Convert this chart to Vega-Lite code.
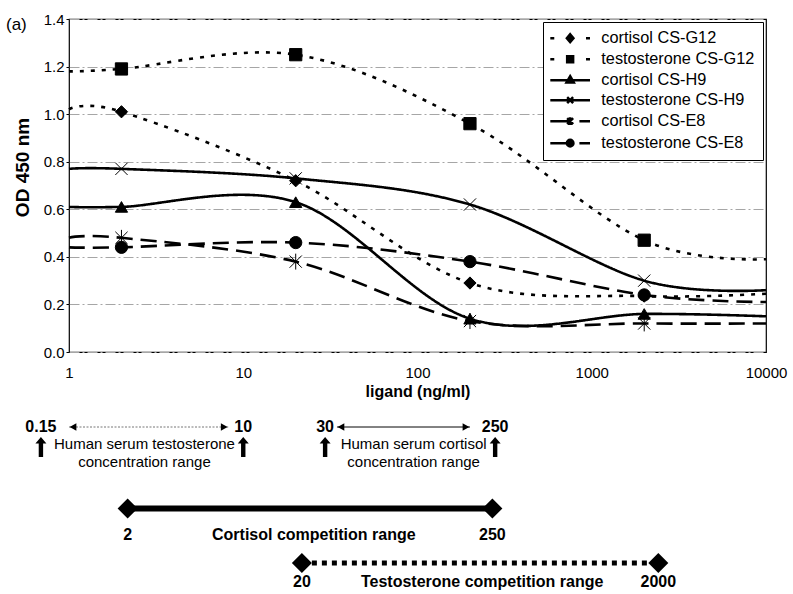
{
  "$schema": "https://vega.github.io/schema/vega-lite/v6.json",
  "padding": {"left": 5, "top": 11, "right": 0, "bottom": 0},
  "spacing": 5,
  "config": {
    "font": "Liberation Sans",
    "view": {"stroke": null},
    "axis": {"labelColor": "black", "titleColor": "black"},
    "title": {"color": "black"},
    "text": {"color": "black"}
  },
  "resolve": {"scale": {"x": "independent"}},
  "datasets": {
    "curves": [
      {"series": "cortisol CS-G12", "conc": 1, "od": 1.02, "marker": false},
      {"series": "cortisol CS-G12", "conc": 2, "od": 1.01, "marker": true},
      {"series": "cortisol CS-G12", "conc": 20, "od": 0.72, "marker": true},
      {"series": "cortisol CS-G12", "conc": 200, "od": 0.29, "marker": true},
      {"series": "cortisol CS-G12", "conc": 2000, "od": 0.235, "marker": true},
      {"series": "cortisol CS-G12", "conc": 10000, "od": 0.245, "marker": false},
      {"series": "testosterone CS-G12", "conc": 1, "od": 1.18, "marker": false},
      {"series": "testosterone CS-G12", "conc": 2, "od": 1.19, "marker": true},
      {"series": "testosterone CS-G12", "conc": 20, "od": 1.25, "marker": true},
      {"series": "testosterone CS-G12", "conc": 200, "od": 0.96, "marker": true},
      {"series": "testosterone CS-G12", "conc": 2000, "od": 0.47, "marker": true},
      {"series": "testosterone CS-G12", "conc": 10000, "od": 0.39, "marker": false},
      {"series": "cortisol CS-H9", "conc": 1, "od": 0.61, "marker": false},
      {"series": "cortisol CS-H9", "conc": 2, "od": 0.61, "marker": true},
      {"series": "cortisol CS-H9", "conc": 20, "od": 0.63, "marker": true},
      {"series": "cortisol CS-H9", "conc": 200, "od": 0.14, "marker": true},
      {"series": "cortisol CS-H9", "conc": 2000, "od": 0.16, "marker": true},
      {"series": "cortisol CS-H9", "conc": 10000, "od": 0.15, "marker": false},
      {"series": "testosterone CS-H9", "conc": 1, "od": 0.77, "marker": false},
      {"series": "testosterone CS-H9", "conc": 2, "od": 0.77, "marker": true},
      {"series": "testosterone CS-H9", "conc": 20, "od": 0.73, "marker": true},
      {"series": "testosterone CS-H9", "conc": 200, "od": 0.62, "marker": true},
      {"series": "testosterone CS-H9", "conc": 2000, "od": 0.3, "marker": true},
      {"series": "testosterone CS-H9", "conc": 10000, "od": 0.26, "marker": false},
      {"series": "cortisol CS-E8", "conc": 1, "od": 0.48, "marker": false},
      {"series": "cortisol CS-E8", "conc": 2, "od": 0.48, "marker": true},
      {"series": "cortisol CS-E8", "conc": 20, "od": 0.38, "marker": true},
      {"series": "cortisol CS-E8", "conc": 200, "od": 0.13, "marker": true},
      {"series": "cortisol CS-E8", "conc": 2000, "od": 0.12, "marker": true},
      {"series": "cortisol CS-E8", "conc": 10000, "od": 0.12, "marker": false},
      {"series": "testosterone CS-E8", "conc": 1, "od": 0.44, "marker": false},
      {"series": "testosterone CS-E8", "conc": 2, "od": 0.44, "marker": true},
      {"series": "testosterone CS-E8", "conc": 20, "od": 0.46, "marker": true},
      {"series": "testosterone CS-E8", "conc": 200, "od": 0.38, "marker": true},
      {"series": "testosterone CS-E8", "conc": 2000, "od": 0.24, "marker": true},
      {"series": "testosterone CS-E8", "conc": 10000, "od": 0.21, "marker": false}
    ],
    "ends": [
      {"hormone": "testosterone", "row": "serum", "at": 0.69, "label": "0.15"},
      {"hormone": "testosterone", "row": "serum", "at": 10, "label": "10"},
      {"hormone": "cortisol", "row": "serum", "at": 29.5, "label": "30"},
      {"hormone": "cortisol", "row": "serum", "at": 279, "label": "250"},
      {"hormone": "cortisol", "row": "cortisol", "at": 2.17, "label": "2"},
      {"hormone": "cortisol", "row": "cortisol", "at": 269, "label": "250"},
      {"hormone": "testosterone", "row": "testosterone", "at": 21.7, "label": "20"},
      {"hormone": "testosterone", "row": "testosterone", "at": 2410, "label": "2000"}
    ],
    "spans": [
      {"hormone": "testosterone", "row": "serum", "from": 1.0, "to": 8.2},
      {"hormone": "cortisol", "row": "serum", "from": 34.5, "to": 200},
      {"hormone": "cortisol", "row": "cortisol", "from": 2.17, "to": 269},
      {"hormone": "testosterone", "row": "testosterone", "from": 21.7, "to": 2410}
    ],
    "notes": [
      {"row": "serum", "at": 2.71, "text": "Human serum testosterone\nconcentration range"},
      {"row": "serum", "at": 95, "text": "Human serum cortisol\nconcentration range"},
      {"row": "cortisol", "at": 25.4, "text": "Cortisol competition range"},
      {"row": "testosterone", "at": 235, "text": "Testosterone competition range"}
    ]
  },
  "vconcat": [
    {
      "width": 697,
      "height": 333,
      "title": {"text": "(a)", "anchor": "start", "frame": "bounds", "offset": -22, "fontSize": 17, "fontWeight": "normal", "dx": -7},
      "view": {"stroke": "black", "strokeWidth": 1.2},
      "data": {"name": "curves"},
      "encoding": {
        "x": {
          "field": "conc", "type": "quantitative",
          "scale": {"type": "log", "domain": [1, 10000], "nice": false},
          "axis": {"values": [1, 10, 100, 1000, 10000], "format": "d", "ticks": false, "domain": false, "grid": false, "labelFlush": false, "labelFontSize": 15, "labelPadding": 13, "title": "ligand (ng/ml)", "titleFontSize": 16, "titleFontWeight": "bold", "titlePadding": 3}
        },
        "y": {
          "field": "od", "type": "quantitative",
          "scale": {"domain": [0, 1.4], "nice": false, "zero": false},
          "axis": {"values": [0, 0.2, 0.4, 0.6, 0.8, 1, 1.2, 1.4], "format": ".1f", "grid": true, "gridColor": "#a6a6a6", "gridDash": [10, 3, 2, 3], "gridWidth": 1, "tickSize": 3, "tickColor": "black", "domain": false, "labelFlush": false, "labelFontSize": 15, "labelPadding": 2, "title": "OD 450 nm", "titleFontSize": 19, "titleFontWeight": "bold", "titleX": -37, "titleY": 148}
        }
      },
      "layer": [
        {
          "mark": {"type": "line", "interpolate": "cardinal", "strokeWidth": 2.6, "color": "black"},
          "encoding": {
            "strokeDash": {
              "field": "series", "type": "nominal", "legend": null,
              "scale": {
                "domain": ["cortisol CS-G12", "testosterone CS-G12", "cortisol CS-H9", "testosterone CS-H9", "cortisol CS-E8", "testosterone CS-E8"],
                "range": [[4, 7], [4, 7], [1, 0], [1, 0], [16, 8], [16, 8]]
              }
            }
          }
        },
        {
          "transform": [{"filter": "datum.marker"}],
          "mark": {"type": "point", "filled": true, "color": "black", "stroke": "black", "strokeWidth": 1, "size": 150, "opacity": 1},
          "encoding": {
            "shape": {
              "field": "series", "type": "nominal", "legend": null,
              "scale": {
                "domain": ["cortisol CS-G12", "testosterone CS-G12", "cortisol CS-H9", "testosterone CS-H9", "cortisol CS-E8", "testosterone CS-E8"],
                "range": ["diamond", "square", "triangle-up", "M-1,-1L1,1M-1,1L1,-1", "M-1,-1L1,1M-1,1L1,-1M0,-1.3L0,1.3", "circle"]
              }
            }
          }
        },
        {
          "transform": [{"filter": "datum.od < 0"}],
          "mark": {"type": "point", "filled": true, "color": "black", "stroke": "black", "strokeWidth": 2.5, "opacity": 1},
          "encoding": {
            "shape": {
              "field": "series", "type": "nominal",
              "scale": {
                "domain": ["cortisol CS-G12", "testosterone CS-G12", "cortisol CS-H9", "testosterone CS-H9", "cortisol CS-E8", "testosterone CS-E8"],
                "range": [
                  "M-3,0L-2.4,0M2.4,0L3,0M0,-0.6L0.5,0L0,0.6L-0.5,0Z",
                  "M-3,0L-2.4,0M2.4,0L3,0M-0.45,-0.45L0.45,-0.45L0.45,0.45L-0.45,0.45Z",
                  "M-3,0L3,0M0,-0.6L0.55,0.35L-0.55,0.35Z",
                  "M-3,0L3,0M-0.45,-0.45L0.45,0.45M-0.45,0.45L0.45,-0.45",
                  "M-3,0L0,0M1.4,0L3,0M-0.45,-0.45L0.45,0.45M-0.45,0.45L0.45,-0.45M0,-0.6L0,0.6",
                  "M-3,0L0,0M1.4,0L3,0M0.5,0A0.5,0.5,0,1,1,-0.5,0A0.5,0.5,0,1,1,0.5,0Z"
                ]
              },
              "legend": {"title": null, "orient": "top-right", "offset": 3, "padding": 8, "strokeColor": "black", "fillColor": "white", "labelFontSize": 16.3, "labelColor": "black", "symbolSize": 175, "symbolStrokeWidth": 2.5, "symbolOffset": 11, "labelOffset": 23, "rowPadding": 3}
            }
          }
        }
      ],
      "resolve": {"scale": {"shape": "independent"}}
    },
    {
      "width": 697,
      "height": 185,
      "encoding": {
        "y": {"field": "row", "type": "nominal", "axis": null, "scale": {"type": "point", "domain": ["serum", "_1", "_2", "cortisol", "_3", "testosterone"], "range": [22, 158], "padding": 0}}
      },
      "layer": [
        {
          "data": {"name": "spans"},
          "transform": [{"filter": "datum.row !== 'serum'"}],
          "mark": {"type": "rule", "strokeCap": "butt", "color": "black"},
          "encoding": {
            "x": {"field": "from", "type": "quantitative", "scale": {"type": "log", "domain": [1, 10000], "nice": false}, "axis": null},
            "x2": {"field": "to"},
            "strokeWidth": {"condition": {"test": "datum.hormone === 'testosterone'", "value": 5}, "value": 6},
            "strokeDash": {"condition": {"test": "datum.hormone === 'testosterone'", "value": [5, 5]}, "value": [1, 0]}
          }
        },
        {
          "data": {"name": "spans"},
          "transform": [{"filter": "datum.row === 'serum'"}],
          "mark": {"type": "rule", "strokeWidth": 1},
          "encoding": {
            "x": {"field": "from", "type": "quantitative", "scale": {"type": "log", "domain": [1, 10000], "nice": false}, "axis": null},
            "x2": {"field": "to"},
            "color": {"condition": {"test": "datum.hormone === 'testosterone'", "value": "#777777"}, "value": "black"},
            "strokeDash": {"condition": {"test": "datum.hormone === 'testosterone'", "value": [2, 1.5]}, "value": [1, 0]}
          }
        },
        {
          "data": {"name": "spans"},
          "transform": [{"filter": "datum.row === 'serum'"}],
          "mark": {"type": "point", "shape": "triangle-left", "size": 60, "filled": true, "color": "black", "opacity": 1, "xOffset": 4},
          "encoding": {
            "x": {"field": "from", "type": "quantitative", "scale": {"type": "log", "domain": [1, 10000], "nice": false}, "axis": null}
          }
        },
        {
          "data": {"name": "spans"},
          "transform": [{"filter": "datum.row === 'serum'"}],
          "mark": {"type": "point", "shape": "triangle-right", "size": 60, "filled": true, "color": "black", "opacity": 1, "xOffset": -4},
          "encoding": {
            "x": {"field": "to", "type": "quantitative", "scale": {"type": "log", "domain": [1, 10000], "nice": false}, "axis": null}
          }
        },
        {
          "data": {"name": "ends"},
          "transform": [{"filter": "datum.row === 'serum'"}],
          "mark": {"type": "point", "shape": "M0,-1L0.55,-0.35L0.22,-0.35L0.22,1L-0.22,1L-0.22,-0.35L-0.55,-0.35Z", "size": 400, "filled": true, "color": "black", "opacity": 1, "yOffset": 20},
          "encoding": {
            "x": {"field": "at", "type": "quantitative", "scale": {"type": "log", "domain": [1, 10000], "nice": false}, "axis": null}
          }
        },
        {
          "data": {"name": "ends"},
          "transform": [{"filter": "datum.row === 'serum'"}],
          "mark": {"type": "text", "fontSize": 16, "fontWeight": "bold", "dy": 0, "color": "black"},
          "encoding": {
            "x": {"field": "at", "type": "quantitative", "scale": {"type": "log", "domain": [1, 10000], "nice": false}, "axis": null},
            "text": {"field": "label"}
          }
        },
        {
          "data": {"name": "ends"},
          "transform": [{"filter": "datum.row !== 'serum'"}],
          "mark": {"type": "point", "shape": "diamond", "size": 400, "filled": true, "color": "black", "opacity": 1},
          "encoding": {
            "x": {"field": "at", "type": "quantitative", "scale": {"type": "log", "domain": [1, 10000], "nice": false}, "axis": null}
          }
        },
        {
          "data": {"name": "ends"},
          "transform": [{"filter": "datum.row === 'cortisol'"}],
          "mark": {"type": "text", "fontSize": 16, "fontWeight": "bold", "dy": 26, "color": "black"},
          "encoding": {
            "x": {"field": "at", "type": "quantitative", "scale": {"type": "log", "domain": [1, 10000], "nice": false}, "axis": null},
            "text": {"field": "label"}
          }
        },
        {
          "data": {"name": "ends"},
          "transform": [{"filter": "datum.row === 'testosterone'"}],
          "mark": {"type": "text", "fontSize": 16, "fontWeight": "bold", "dy": 19, "color": "black"},
          "encoding": {
            "x": {"field": "at", "type": "quantitative", "scale": {"type": "log", "domain": [1, 10000], "nice": false}, "axis": null},
            "text": {"field": "label"}
          }
        },
        {
          "data": {"name": "notes"},
          "transform": [{"filter": "datum.row === 'serum'"}],
          "mark": {"type": "text", "fontSize": 15, "lineBreak": "\n", "lineHeight": 18, "dy": 17, "color": "black"},
          "encoding": {
            "x": {"field": "at", "type": "quantitative", "scale": {"type": "log", "domain": [1, 10000], "nice": false}, "axis": null},
            "text": {"field": "text"}
          }
        },
        {
          "data": {"name": "notes"},
          "transform": [{"filter": "datum.row === 'cortisol'"}],
          "mark": {"type": "text", "fontSize": 16, "fontWeight": "bold", "dy": 26, "color": "black"},
          "encoding": {
            "x": {"field": "at", "type": "quantitative", "scale": {"type": "log", "domain": [1, 10000], "nice": false}, "axis": null},
            "text": {"field": "text"}
          }
        },
        {
          "data": {"name": "notes"},
          "transform": [{"filter": "datum.row === 'testosterone'"}],
          "mark": {"type": "text", "fontSize": 16, "fontWeight": "bold", "dy": 19, "color": "black"},
          "encoding": {
            "x": {"field": "at", "type": "quantitative", "scale": {"type": "log", "domain": [1, 10000], "nice": false}, "axis": null},
            "text": {"field": "text"}
          }
        }
      ]
    }
  ]
}
